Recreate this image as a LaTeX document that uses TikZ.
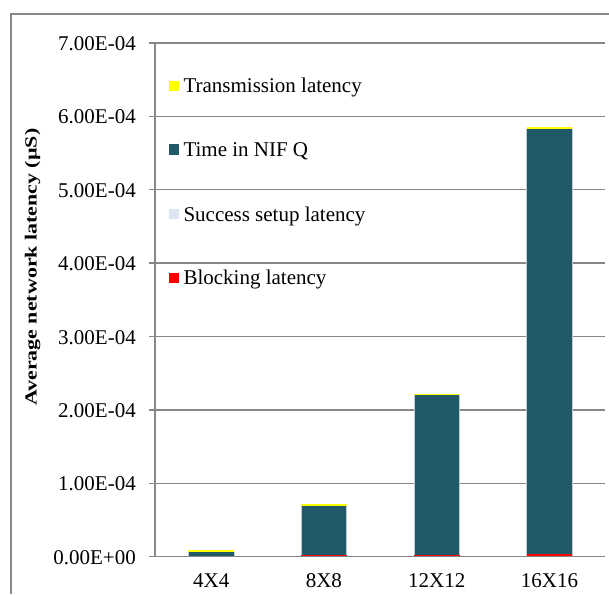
\documentclass[tikz,border=0pt]{standalone}
\usepackage{fontspec}
\setmainfont{Liberation Serif}
\definecolor{nifq}{HTML}{215968}
\definecolor{setup}{HTML}{DCE6F2}
\definecolor{trans}{HTML}{FFFF00}
\definecolor{block}{HTML}{FF0000}
\definecolor{linegray}{HTML}{878787}
\begin{document}
\begin{tikzpicture}[x=1pt,y=-1pt,
  frameline/.style={draw=linegray,line width=1.4pt},
  gridline/.style={draw=linegray,line width=1.4pt},
  ticklab/.style={anchor=base east,inner sep=0pt,font=\fontsize{21}{24}\selectfont},
  catlab/.style={anchor=base,inner sep=0pt,font=\fontsize{21}{24}\selectfont},
  legtext/.style={anchor=base west,inner sep=0pt,font=\fontsize{21}{24}\selectfont},
  legmark/.style={inner sep=0pt,minimum width=10.7pt,minimum height=10.5pt,anchor=south west},
  barpart/.style={draw=none}]
\useasboundingbox (0,0) rectangle (609,594);
% outer frame (only top and left visible)
\coordinate (fbl) at (11,594);
\coordinate (ftl) at (11,14);
\coordinate (ftr) at (609,14);
\draw[frameline] (fbl) -- (ftl) -- (ftr);
% gridlines, ticks and tick labels
\foreach \k/\lab in {1/1.00E-04,2/2.00E-04,3/3.00E-04,4/4.00E-04,5/5.00E-04,6/6.00E-04,7/7.00E-04}{
  \coordinate (gl\k) at (155,{556.7-73.4*\k});
  \coordinate (gr\k) at (605,{556.7-73.4*\k});
  \coordinate (tk\k) at (149,{556.7-73.4*\k});
  \draw[gridline] (tk\k) -- (gr\k);
  \node[ticklab] (t\k) at (136,{556.7-73.4*\k+7.6}) {\lab};
}
\node[ticklab] (t0) at (136,{556.7+7.6}) {0.00E+00};
% bars: centre, top, red height
\foreach \i/\c/\top/\red in {1/211.2/550.3/0.6,2/323.9/504.3/1.3,3/436.7/393.5/1.6,4/549.5/127.3/2.8}{
  \fill[nifq] ({\c-22.8},556.7) rectangle ({\c+22.8},\top);
  \draw[white!70!nifq,line width=0.5pt] ({\c-22.8},556.7) -- ({\c-22.8},{\top+1.2});
  \draw[white!70!nifq,line width=0.5pt] ({\c+22.8},556.7) -- ({\c+22.8},{\top+1.2});
  \fill[block] ({\c-22.8},556.7) rectangle ({\c+22.8},{556.7-\red});
  \fill[trans] ({\c-22.8},\top) rectangle ({\c+22.8},{\top+1.2});
}
% axes
\coordinate (ax0) at (155,556.7);
\coordinate (axtop) at (155,42.9);
\coordinate (axr) at (605,556.7);
\coordinate (tk0) at (149,556.7);
\draw[gridline] (tk0) -- (axr);
\draw[gridline] (ax0) -- (axtop);
% category labels
\node[catlab] (c1) at (211.2,587) {4X4};
\node[catlab] (c2) at (323.9,587) {8X8};
\node[catlab] (c3) at (436.7,587) {12X12};
\node[catlab] (c4) at (549.5,587) {16X16};
% legend
\node[legmark,fill=trans] (m1) at (168.3,91.2) {};
\node[legtext] (l1) at (183.3,92.3) {Transmission latency};
\node[legmark,fill=nifq] (m2) at (168.3,155) {};
\node[legtext] (l2) at (183.3,156) {Time in NIF Q};
\node[legmark,fill=setup] (m3) at (168.3,219.5) {};
\node[legtext] (l3) at (183.3,221.7) {Success setup latency};
\node[legmark,fill=block] (m4) at (168.3,283.3) {};
\node[legtext] (l4) at (183.3,284) {Blocking latency};
% y-axis title
\node[rotate=90,anchor=base,inner sep=0pt,font=\fontsize{17}{20}\selectfont\bfseries] (ytitle) at (36.7,267.2) {\scalebox{1.29}[1]{Average network latency (µS)}};
\end{tikzpicture}
\end{document}
